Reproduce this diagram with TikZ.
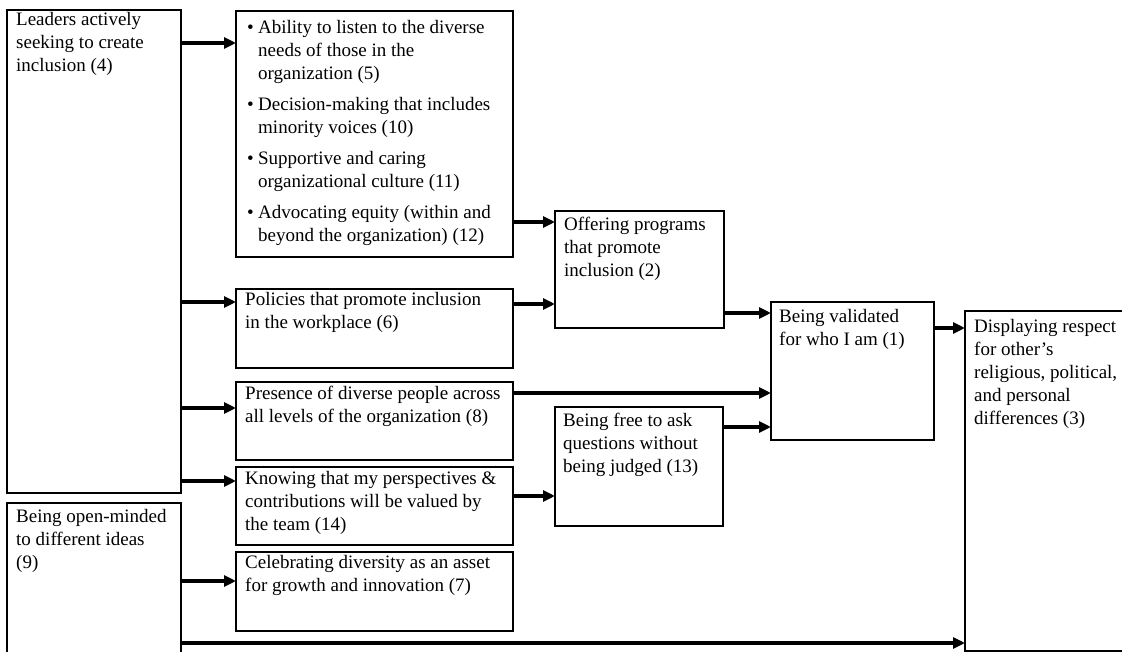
\documentclass[tikz,border=0pt]{standalone}
\usepackage{fontspec}
\setmainfont{Liberation Serif}
\usetikzlibrary{arrows.meta,calc}
\begin{document}
\begin{tikzpicture}[x=1pt,y=-1pt,
  panel/.style={draw, line width=2.2pt, anchor=north west, inner sep=0pt, outer sep=0pt},
  words/.style={anchor=north west, inner sep=0pt, align=left, font=\fontsize{19}{23}\selectfont,
    execute at begin node=\strut},
  arr/.style={line width=3.2pt, -{Triangle[length=12pt,width=11pt]}}]
\useasboundingbox (0,0) rectangle (1122,652);
\clip (0,0) rectangle (1122,652);

% boxes
\node[panel, minimum width=174pt, minimum height=483pt] (lead) at (7,10) {};
\node[panel, minimum width=174pt, minimum height=170pt] (open) at (7,503) {};
\node[panel, minimum width=277pt, minimum height=246pt] (list) at (236,11) {};
\node[panel, minimum width=169pt, minimum height=117pt] (prog) at (555,211) {};
\node[panel, minimum width=277pt, minimum height=79pt] (pol) at (236,289) {};
\node[panel, minimum width=277pt, minimum height=78pt] (pres) at (236,382) {};
\node[panel, minimum width=277pt, minimum height=78pt] (know) at (236,467) {};
\node[panel, minimum width=277pt, minimum height=79pt] (celeb) at (236,552) {};
\node[panel, minimum width=168pt, minimum height=119pt] (free) at (555,407) {};
\node[panel, minimum width=163pt, minimum height=138pt] (valid) at (771,302) {};
\node[panel, minimum width=180pt, minimum height=340pt] (resp) at (965,311) {};

% texts (offsets give the first baseline below the top edge, less the strut height)
\node[words] (leadtxt) at ($(lead.north west)+(9,18-16.1)$) {Leaders actively\\seeking to create\\inclusion (4)};
\node[words] (opentxt) at ($(open.north west)+(9,22-16.1)$) {Being open-minded\\to different ideas\\(9)};
\node[words] (listtxt) at ($(list.north west)+(11,25-16.1)$) {%
\makebox[11pt][l]{•}Ability to listen to the diverse\\
\hspace*{11pt}needs of those in the\\
\hspace*{11pt}organization (5)\\[8pt]
\makebox[11pt][l]{•}Decision-making that includes\\
\hspace*{11pt}minority voices (10)\\[8pt]
\makebox[11pt][l]{•}Supportive and caring\\
\hspace*{11pt}organizational culture (11)\\[8pt]
\makebox[11pt][l]{•}Advocating equity (within and\\
\hspace*{11pt}beyond the organization) (12)};
\node[words] (progtxt) at ($(prog.north west)+(9,22-16.1)$) {Offering programs\\that promote\\inclusion (2)};
\node[words] (poltxt) at ($(pol.north west)+(9,19-16.1)$) {Policies that promote inclusion\\in the workplace (6)};
\node[words] (prestxt) at ($(pres.north west)+(9,20-16.1)$) {Presence of diverse people across\\all levels of the organization (8)};
\node[words] (knowtxt) at ($(know.north west)+(9,20-16.1)$) {Knowing that my perspectives \&\\contributions will be valued by\\the team (14)};
\node[words] (celebtxt) at ($(celeb.north west)+(9,19-16.1)$) {Celebrating diversity as an asset\\for growth and innovation (7)};
\node[words] (freetxt) at ($(free.north west)+(8,22-16.1)$) {Being free to ask\\questions without\\being judged (13)};
\node[words] (validtxt) at ($(valid.north west)+(8,23-16.1)$) {Being validated\\for who I am (1)};
\node[words] (resptxt) at ($(resp.north west)+(9,24-16.1)$) {Displaying respect\\for other’s\\religious, political,\\and personal\\differences (3)};

% connectors
\draw[arr] (lead.east |- 0,43) -- (list.west |- 0,43);
\draw[arr] (lead.east |- 0,302) -- (pol.west |- 0,302);
\draw[arr] (lead.east |- 0,408) -- (pres.west |- 0,408);
\draw[arr] (lead.east |- 0,481) -- (know.west |- 0,481);
\draw[arr] (open.east |- 0,581) -- (celeb.west |- 0,581);
\draw[arr] (open.east |- 0,643) -- (resp.west |- 0,643);
\draw[arr] (list.east |- 0,222) -- (prog.west |- 0,222);
\draw[arr] (pol.east |- 0,304) -- (prog.west |- 0,304);
\draw[arr] (prog.east |- 0,313) -- (valid.west |- 0,313);
\draw[arr] (pres.east |- 0,393) -- (valid.west |- 0,393);
\draw[arr] (free.east |- 0,427) -- (valid.west |- 0,427);
\draw[arr] (know.east |- 0,496) -- (free.west |- 0,496);
\draw[arr] (valid.east |- 0,328) -- (resp.west |- 0,328);
\end{tikzpicture}
\end{document}
